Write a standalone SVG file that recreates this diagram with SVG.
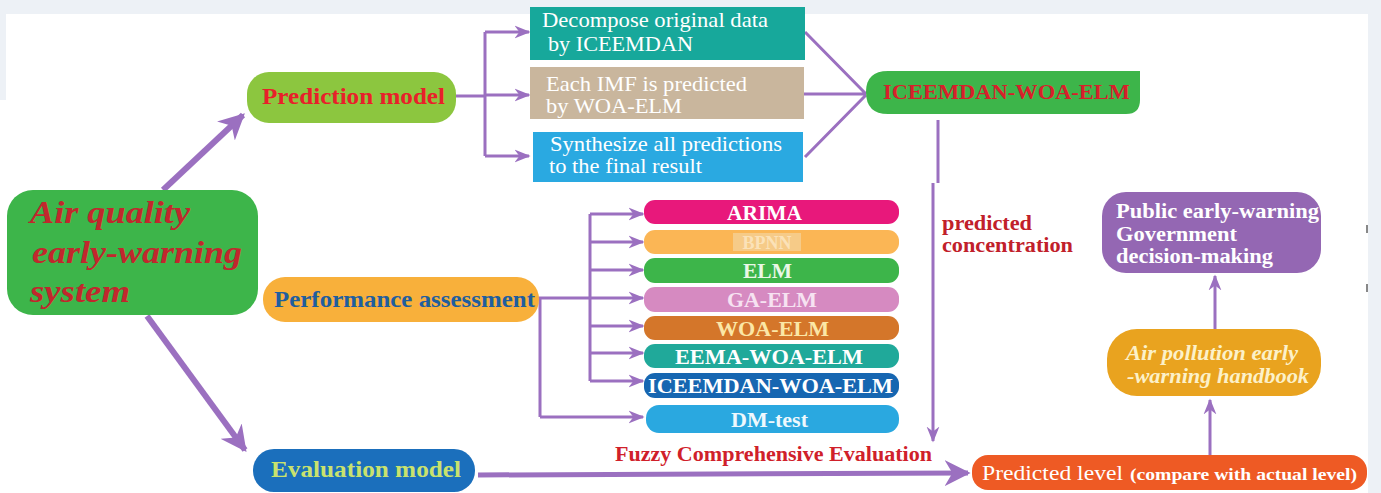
<svg xmlns="http://www.w3.org/2000/svg" width="1381" height="493" viewBox="0 0 1381 493">
<defs>
<marker id="big" viewBox="0 0 10 10" refX="9" refY="5" markerWidth="26" markerHeight="26" markerUnits="userSpaceOnUse" orient="auto"><path d="M0,0 L10,5 L0,10 L3,5 z" fill="#9b70c0"/></marker>
<marker id="sm" viewBox="0 0 10 10" refX="9" refY="5" markerWidth="16" markerHeight="16" markerUnits="userSpaceOnUse" orient="auto"><path d="M0,1 L10,5 L0,9 L3,5 z" fill="#9b70c0"/></marker>
</defs>
<style>
.s{font-family:"Liberation Serif","Times New Roman",serif}
.b{font-weight:bold}
.i{font-style:italic}
.c{stroke:#9b70c0;fill:none;stroke-width:3}
.t{stroke:#9b70c0;fill:none;stroke-width:6}
.w{fill:#ffffff}
</style>
<rect x="0" y="0" width="1381" height="493" fill="#edf1f6"/>
<rect x="6" y="14" width="1362" height="479" fill="#ffffff"/>
<rect x="0" y="100" width="1368" height="393" fill="#ffffff"/>
<rect x="1366" y="225" width="2" height="8" fill="#888"/>
<rect x="1366" y="284" width="2" height="8" fill="#888"/>

<g id="connectors">
<line class="t" x1="163" y1="190" x2="243" y2="115" marker-end="url(#big)"/>
<line class="t" x1="147" y1="316" x2="245" y2="450" marker-end="url(#big)"/>
<path class="c" d="M456,96 H485 M485,32 V156"/>
<line class="c" x1="485" y1="32" x2="529" y2="32" marker-end="url(#sm)"/>
<line class="c" x1="485" y1="95" x2="529" y2="95" marker-end="url(#sm)"/>
<line class="c" x1="485" y1="156" x2="529" y2="156" marker-end="url(#sm)"/>
<path class="c" d="M805,32 L866,94 M803,94 H866 M805,157 L866,95"/>
<path class="c" d="M938,120 V183"/>
<line class="c" x1="933" y1="183" x2="933" y2="441" marker-end="url(#sm)"/>
<path class="c" d="M538,298 H590 M590,214 V381 M540,298 V417"/>
<line class="c" x1="590" y1="214" x2="643" y2="214" marker-end="url(#sm)"/>
<line class="c" x1="590" y1="242" x2="643" y2="242" marker-end="url(#sm)"/>
<line class="c" x1="590" y1="270" x2="643" y2="270" marker-end="url(#sm)"/>
<line class="c" x1="590" y1="298" x2="643" y2="298" marker-end="url(#sm)"/>
<line class="c" x1="590" y1="326" x2="643" y2="326" marker-end="url(#sm)"/>
<line class="c" x1="590" y1="353" x2="643" y2="353" marker-end="url(#sm)"/>
<line class="c" x1="590" y1="381" x2="643" y2="381" marker-end="url(#sm)"/>
<line class="c" x1="540" y1="417" x2="643" y2="417" marker-end="url(#sm)"/>
<line stroke="#9b70c0" stroke-width="5" x1="478" y1="475" x2="968" y2="473" marker-end="url(#big)"/>
<line class="c" x1="1210" y1="455" x2="1210" y2="400" marker-end="url(#sm)"/>
<line class="c" x1="1215" y1="329" x2="1215" y2="276" marker-end="url(#sm)"/>
</g>

<g id="main">
<rect x="7" y="190" width="251" height="125" rx="26" fill="#3db54a"/>
<text class="s b i" font-size="32" fill="#c1272d" x="30" y="223" textLength="160" lengthAdjust="spacingAndGlyphs">Air quality</text>
<text class="s b i" font-size="32" fill="#c1272d" x="32" y="263" textLength="210" lengthAdjust="spacingAndGlyphs">early-warning</text>
<text class="s b i" font-size="32" fill="#c1272d" x="30" y="302" textLength="100" lengthAdjust="spacingAndGlyphs">system</text>
</g>

<g id="prediction-model">
<rect x="247" y="72" width="209" height="51" rx="22" fill="#8cc63f"/>
<text class="s b" font-size="23" fill="#e8202a" x="262" y="104" textLength="183" lengthAdjust="spacingAndGlyphs">Prediction model</text>
</g>

<g id="performance-assessment">
<rect x="263" y="277" width="276" height="45" rx="22" fill="#f8b03b"/>
<text class="s b" font-size="23" fill="#1f5e9e" x="274" y="307" textLength="261" lengthAdjust="spacingAndGlyphs">Performance assessment</text>
</g>

<g id="evaluation-model">
<rect x="253" y="449" width="222" height="43" rx="21" fill="#1b6fbc"/>
<text class="s b" font-size="23" fill="#c9e26e" x="271" y="477" textLength="190" lengthAdjust="spacingAndGlyphs">Evaluation model</text>
</g>

<g id="decompose">
<rect x="530" y="7" width="275" height="53" fill="#17a89b"/>
<text class="s w" font-size="21" x="542" y="27" textLength="226" lengthAdjust="spacingAndGlyphs">Decompose original data</text>
<text class="s w" font-size="21" x="548" y="51" textLength="145" lengthAdjust="spacingAndGlyphs">by ICEEMDAN</text>
</g>

<g id="each-imf">
<rect x="530" y="67" width="274" height="52" fill="#c9b69d"/>
<text class="s w" font-size="21" x="546" y="91" textLength="201" lengthAdjust="spacingAndGlyphs">Each IMF is predicted</text>
<text class="s w" font-size="21" x="546" y="113" textLength="136" lengthAdjust="spacingAndGlyphs">by WOA-ELM</text>
</g>

<g id="synthesize">
<rect x="533" y="132" width="270" height="50" fill="#2aa9e1"/>
<text class="s w" font-size="21" x="550" y="151" textLength="232" lengthAdjust="spacingAndGlyphs">Synthesize all predictions</text>
<text class="s w" font-size="21" x="549" y="173" textLength="153" lengthAdjust="spacingAndGlyphs">to the final result</text>
</g>

<g id="iceemdan-woa-elm">
<path d="M888,71 H1140 V100 Q1140,114 1126,114 H888 Q866,114 866,92 Q866,71 888,71 z" fill="#3db54a"/>
<text class="s b" font-size="20" fill="#d7202a" x="883" y="99" textLength="247" lengthAdjust="spacingAndGlyphs">ICEEMDAN-WOA-ELM</text>
</g>

<g id="predicted-concentration">
<text class="s b" font-size="20" fill="#c1202a" x="942" y="230" textLength="90" lengthAdjust="spacingAndGlyphs">predicted</text>
<text class="s b" font-size="20" fill="#c1202a" x="942" y="252" textLength="131" lengthAdjust="spacingAndGlyphs">concentration</text>
</g>

<g id="arima">
<rect x="644" y="200" width="255" height="24" rx="11" fill="#e8187b"/>
<text class="s b w" font-size="20" x="727" y="220" textLength="75" lengthAdjust="spacingAndGlyphs">ARIMA</text>
</g>
<g id="bpnn">
<rect x="644" y="230" width="255" height="24" rx="11" fill="#fbb655"/>
<rect x="733" y="233" width="68" height="18" fill="#f6cb88"/>
<text class="s b" font-size="18" fill="#fde8c4" x="767" y="249" text-anchor="middle" opacity="0.8">BPNN</text>
</g>
<g id="elm">
<rect x="644" y="258" width="255" height="25" rx="11" fill="#3db54a"/>
<text class="s b" font-size="20" fill="#eaf7e6" x="743" y="278" textLength="49" lengthAdjust="spacingAndGlyphs">ELM</text>
</g>
<g id="ga-elm">
<rect x="644" y="287" width="255" height="25" rx="11" fill="#d68ac1"/>
<text class="s b" font-size="20" fill="#f6e2f1" x="727" y="307" textLength="90" lengthAdjust="spacingAndGlyphs">GA-ELM</text>
</g>
<g id="woa-elm">
<rect x="644" y="316" width="255" height="24" rx="11" fill="#d4762a"/>
<text class="s b" font-size="20" fill="#fbe7a6" x="716" y="336" textLength="113" lengthAdjust="spacingAndGlyphs">WOA-ELM</text>
</g>
<g id="eema-woa-elm">
<rect x="644" y="344" width="255" height="24" rx="11" fill="#20a99a"/>
<text class="s b w" font-size="20" x="675" y="364" textLength="188" lengthAdjust="spacingAndGlyphs">EEMA-WOA-ELM</text>
</g>
<g id="iceemdan-woa-elm-2">
<rect x="644" y="373" width="255" height="25" rx="11" fill="#1666b1"/>
<text class="s b w" font-size="20" x="648" y="393" textLength="245" lengthAdjust="spacingAndGlyphs">ICEEMDAN-WOA-ELM</text>
</g>
<g id="dm-test">
<rect x="646" y="405" width="253" height="28" rx="13" fill="#2aa8e0"/>
<text class="s b" font-size="20" fill="#eef8fd" x="731" y="427" textLength="77" lengthAdjust="spacingAndGlyphs">DM-test</text>
</g>

<g id="fuzzy">
<text class="s b" font-size="20" fill="#d0202a" x="615" y="461" textLength="317" lengthAdjust="spacingAndGlyphs">Fuzzy Comprehensive Evaluation</text>
</g>

<g id="predicted-level">
<rect x="972" y="455" width="395" height="35" rx="16" fill="#ee5a24"/>
<text class="s w" font-size="22" x="982" y="480"><tspan textLength="141" lengthAdjust="spacingAndGlyphs">Predicted level</tspan><tspan class="b" font-size="17" x="1130" textLength="227" lengthAdjust="spacingAndGlyphs">(compare with actual level)</tspan></text>
</g>

<g id="handbook">
<rect x="1107" y="329" width="214" height="67" rx="30" fill="#e9a31f"/>
<text class="s b i" font-size="20" fill="#fcf1c9" x="1126" y="360" textLength="172" lengthAdjust="spacingAndGlyphs">Air pollution early</text>
<text class="s b i" font-size="20" fill="#fcf1c9" x="1127" y="383" textLength="182" lengthAdjust="spacingAndGlyphs">-warning handbook</text>
</g>

<g id="public">
<rect x="1102" y="192" width="219" height="81" rx="24" fill="#9467b3"/>
<text class="s b w" font-size="20" x="1116" y="218" textLength="203" lengthAdjust="spacingAndGlyphs">Public early-warning</text>
<text class="s b w" font-size="20" x="1116" y="241" textLength="121" lengthAdjust="spacingAndGlyphs">Government</text>
<text class="s b w" font-size="20" x="1116" y="263" textLength="157" lengthAdjust="spacingAndGlyphs">decision-making</text>
</g>
</svg>
